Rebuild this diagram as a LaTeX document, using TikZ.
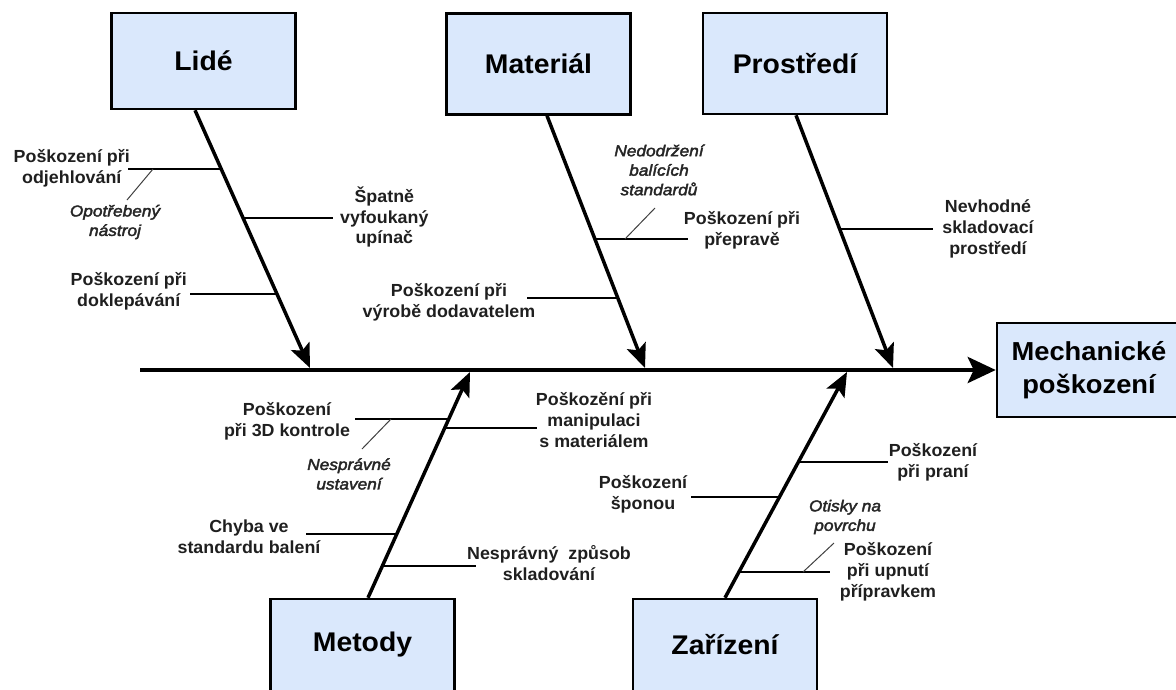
\documentclass[tikz,border=0pt]{standalone}
\usepackage{fontspec}
\setmainfont[FakeStretch=1.02]{Liberation Sans}
\newfontfamily\headfont[FakeStretch=1.05]{Liberation Sans}
\newfontfamily\hintfont[FakeStretch=1.1, FakeBold=2.5]{Liberation Sans}
\usetikzlibrary{arrows.meta, positioning}
\definecolor{catblue}{HTML}{DAE8FC}

\begin{document}
\begin{tikzpicture}[x=1pt, y=-1pt,
    cat/.style = {draw, line width=2.5pt, fill=catblue, minimum width=184pt, inner sep=0pt, align=center, font=\headfont\bfseries\fontsize{27}{33}\selectfont},
    cause/.style = {align=center, inner sep=2pt, text=black!88, font=\bfseries\fontsize{17.5}{20.8}\selectfont},
    hint/.style = {align=center, inner sep=2pt, text=black!85, font=\hintfont\itshape\fontsize{15.7}{19.5}\selectfont},
    spine/.style = {line width=4.5pt, -{Stealth[length=28pt, width=26pt, inset=6pt]}},
    bone/.style = {line width=3.5pt, -{Stealth[length=24pt, width=20pt, inset=5pt]}},
    twig/.style = {line width=2pt},
    hintline/.style = {line width=1pt, black!75}
]
\useasboundingbox (0,0) rectangle (1176,689);
\clip (0,0) rectangle (1176,689);

% categories and effect
\node[cat, minimum height=96pt] (lide) at (203.5,61) {Lidé};
\node[cat, minimum height=101pt] (material) at (538.5,64) {Materiál};
\node[cat, minimum height=101pt] (prostredi) at (795,63.5) {Prostředí};
\node[cat, minimum height=92pt] (metody) at (362.5,645) {Metody};
\node[cat, minimum height=92pt] (zarizeni) at (725,645) {Zařízení};
\node[cat, minimum height=94pt, font=\headfont\bfseries\fontsize{26}{33}\selectfont] (effect) at (1089,370) {Mechanické\\poškození};

% spine
\coordinate (tail) at (140,370);
\draw[spine] (tail) -- (effect.west);

% bones
\coordinate (lide-tip) at (310,368);
\coordinate (material-tip) at (645,368);
\coordinate (prostredi-tip) at (893,368);
\coordinate (metody-tip) at (470,372);
\coordinate (zarizeni-tip) at (847,372);
\draw[bone] ([xshift=-8.5pt]lide.south) -- (lide-tip);
\draw[bone] ([xshift=8.5pt]material.south) -- (material-tip);
\draw[bone] ([xshift=1pt]prostredi.south) -- (prostredi-tip);
\draw[bone] ([xshift=5.5pt]metody.north) -- (metody-tip);
\draw[bone] (zarizeni.north) -- (zarizeni-tip);

% Lide
\coordinate (l1a) at (128,169); \coordinate (l1b) at (222,169);
\coordinate (l2a) at (244,218); \coordinate (l2b) at (333,218);
\coordinate (l3a) at (190,294); \coordinate (l3b) at (277,294);
\coordinate (l1h) at (153,169); \coordinate (l1c) at (127,200);
\node[cause, anchor=east] (odjehlovani) at (132,168.5) {Poškození při\\odjehlování};
\node[cause, anchor=west] (upinac) at (338,217) {Špatně\\vyfoukaný\\upínač};
\node[cause, anchor=east] (doklepavani) at (189,291) {Poškození při\\doklepávání};
\node[hint] (opotrebeny) at (115,222) {Opotřebený\\nástroj};
\draw[twig] (l1a) -- (l1b);
\draw[twig] (l2a) -- (l2b);
\draw[twig] (l3a) -- (l3b);
\draw[hintline] (l1h) -- (l1c);

% Material
\coordinate (m1a) at (595,239); \coordinate (m1b) at (688,239);
\coordinate (m2a) at (527,298); \coordinate (m2b) at (618,298);
\coordinate (m1h) at (625,239); \coordinate (m1c) at (655,208);
\node[cause] (preprave) at (742,230.5) {Poškození při\\přepravě};
\node[cause] (vyrobe) at (449,302) {Poškození při\\výrobě dodavatelem};
\node[hint] (nedodrzeni) at (659,170) {Nedodržení\\balících\\standardů};
\draw[twig] (m1a) -- (m1b);
\draw[twig] (m2a) -- (m2b);
\draw[hintline] (m1h) -- (m1c);

% Prostredi
\coordinate (p1a) at (840,229); \coordinate (p1b) at (933,229);
\node[cause] (skladovaci) at (988,229) {Nevhodné\\skladovací\\prostředí};
\draw[twig] (p1a) -- (p1b);

% Metody
\coordinate (t1a) at (355,419); \coordinate (t1b) at (449,419);
\coordinate (t2a) at (445,428); \coordinate (t2b) at (537,428);
\coordinate (t3a) at (306,534); \coordinate (t3b) at (397,534);
\coordinate (t4a) at (383,566); \coordinate (t4b) at (476,566);
\coordinate (t1h) at (391,419); \coordinate (t1c) at (362,449);
\node[cause] (kontrole) at (287,421.5) {Poškození\\při 3D kontrole};
\node[cause] (manipulaci) at (594,420) {Poškozění při\\manipulaci\\s materiálem};
\node[cause] (baleni) at (249,536.5) {Chyba ve\\standardu balení};
\node[cause] (skladovani) at (549,563) {Nesprávný\ \ způsob\\skladování};
\node[hint] (ustaveni) at (349,474) {Nesprávné\\ustavení};
\draw[twig] (t1a) -- (t1b);
\draw[twig] (t2a) -- (t2b);
\draw[twig] (t3a) -- (t3b);
\draw[twig] (t4a) -- (t4b);
\draw[hintline] (t1h) -- (t1c);

% Zarizeni
\coordinate (z1a) at (799,462); \coordinate (z1b) at (888,462);
\coordinate (z2a) at (691,497); \coordinate (z2b) at (780,497);
\coordinate (z3a) at (740,572); \coordinate (z3b) at (830,572);
\coordinate (z3h) at (803,572); \coordinate (z3c) at (834,543);
\node[cause] (prani) at (933,462.5) {Poškození\\při praní};
\node[cause] (sponou) at (643,494) {Poškození\\šponou};
\node[cause] (upnuti) at (888,572) {Poškození\\při upnutí\\přípravkem};
\node[hint] (otisky) at (845,517) {Otisky na\\povrchu};
\draw[twig] (z1a) -- (z1b);
\draw[twig] (z2a) -- (z2b);
\draw[twig] (z3a) -- (z3b);
\draw[hintline] (z3h) -- (z3c);
\end{tikzpicture}
\end{document}
